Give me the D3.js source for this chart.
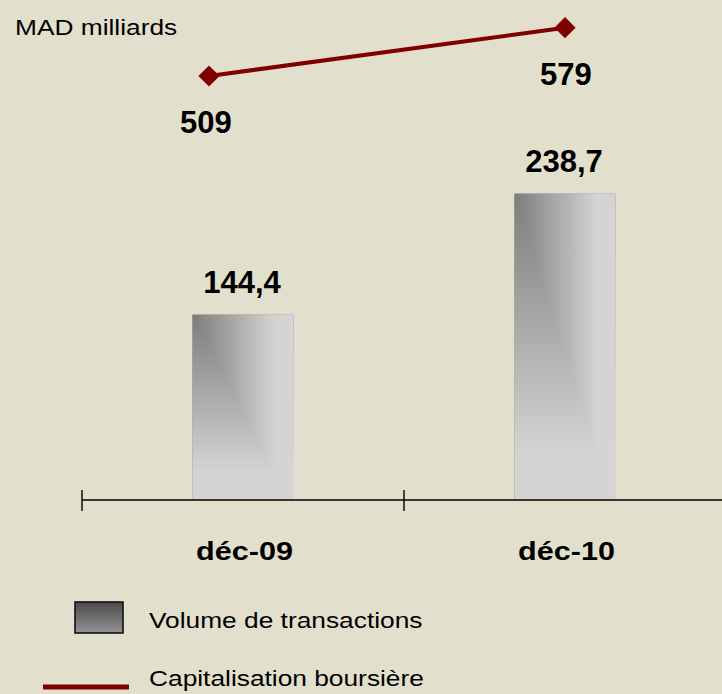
<!DOCTYPE html>
<html>
<head>
<meta charset="utf-8">
<script src="https://cdn.jsdelivr.net/npm/d3@7"></script>
<style>
  html, body { margin: 0; padding: 0; background: #e2e0cc; }
  svg { display: block; font-family: "Liberation Sans", Arial, sans-serif; }
</style>
</head>
<body>
<div id="chart"></div>
<script>
// Data
var categories = ["déc-09", "déc-10"];
var volumeValues = [144.4, 238.7];
var capitalisationValues = [509, 579];
var volumeLabels = ["144,4", "238,7"];
var capitalisationLabels = ["509", "579"];
var seriesNames = ["Volume de transactions", "Capitalisation boursière"];
var unitLabel = "MAD milliards";

var svgWidth = 722;
var svgHeight = 694;

var svg = d3.select("#chart")
  .append("svg")
  .attr("width", svgWidth)
  .attr("height", svgHeight);

svg.append("rect")
  .attr("width", svgWidth)
  .attr("height", svgHeight)
  .attr("fill", "#e2e0cc");

var defs = svg.append("defs");

// bar gradients (horizontal + vertical, combined with lighten -> corner gradient)
var gh = defs.append("linearGradient").attr("id", "gradH")
  .attr("x1", 0).attr("y1", 0).attr("x2", 1).attr("y2", 0);
gh.append("stop").attr("offset", 0).attr("stop-color", "#7d7d7d");
gh.append("stop").attr("offset", 0.82).attr("stop-color", "#d4d4d4");
gh.append("stop").attr("offset", 1).attr("stop-color", "#d4d4d4");

var gv = defs.append("linearGradient").attr("id", "gradV")
  .attr("x1", 0).attr("y1", 0).attr("x2", 0).attr("y2", 1);
gv.append("stop").attr("offset", 0).attr("stop-color", "#7d7d7d");
gv.append("stop").attr("offset", 0.85).attr("stop-color", "#d4d4d4");
gv.append("stop").attr("offset", 1).attr("stop-color", "#d4d4d4");

var gl = defs.append("linearGradient").attr("id", "gradLegend")
  .attr("x1", 0).attr("y1", 0).attr("x2", 0).attr("y2", 1);
gl.append("stop").attr("offset", 0).attr("stop-color", "#4a4a4a");
gl.append("stop").attr("offset", 1).attr("stop-color", "#939393");

// Scales
var x = d3.scaleBand()
  .domain(categories)
  .range([82, 726])
  .padding(0);

var xLine = d3.scalePoint()
  .domain(categories)
  .range([209, 565]);

var y = d3.scaleLinear()
  .domain([0, 300])
  .range([500, 115]);

var y2 = d3.scaleLinear()
  .domain([400, 600])
  .range([151.2, 13.2]);

var barWidth = 101;

// text helper: stretched text
function stretchText(g, str, px, py, size, weight, sx, anchor) {
  return g.append("text")
    .attr("transform", `translate(${px}, ${py}) scale(${sx}, 1)`)
    .attr("font-size", size)
    .attr("font-weight", weight)
    .attr("text-anchor", anchor)
    .attr("fill", "#000")
    .text(str);
}

// Bars
var barsGroup = svg.append("g");
categories.forEach(function(c, i) {
  var bx = x(c) + x.bandwidth() / 2 - barWidth / 2;
  var by = y(volumeValues[i]);
  var bh = y(0) - by;
  var bg = barsGroup.append("g").style("isolation", "isolate");
  bg.append("rect")
    .attr("x", bx).attr("y", by)
    .attr("width", barWidth).attr("height", bh)
    .attr("fill", "url(#gradH)");
  bg.append("rect")
    .attr("x", bx).attr("y", by)
    .attr("width", barWidth).attr("height", bh)
    .attr("fill", "url(#gradV)")
    .style("mix-blend-mode", "lighten");
});

// Axis
var axisGroup = svg.append("g");
axisGroup.append("line")
  .attr("x1", x.range()[0]).attr("x2", svgWidth)
  .attr("y1", y(0)).attr("y2", y(0))
  .attr("stroke", "#000").attr("stroke-width", 1.6);
axisGroup.selectAll(".tick")
  .data(categories)
  .enter()
  .append("line")
  .attr("x1", d => x(d)).attr("x2", d => x(d))
  .attr("y1", y(0) - 10).attr("y2", y(0) + 11)
  .attr("stroke", "#000").attr("stroke-width", 1.4);

categories.forEach(function(c) {
  stretchText(svg, c, x(c) + x.bandwidth() / 2 + 1.5, 560, 26.5, "bold", 1.155, "middle");
});

// Bar labels
volumeLabels.forEach(function(l, i) {
  stretchText(svg, l, x(categories[i]) + x.bandwidth() / 2 - 1, y(volumeValues[i]) - 22, 32, "bold", 0.97, "middle");
});

// Line
var line = d3.line()
  .x((d, i) => xLine(categories[i]))
  .y(d => y2(d));

svg.append("path")
  .datum(capitalisationValues)
  .attr("d", line)
  .attr("fill", "none")
  .attr("stroke", "#800000")
  .attr("stroke-width", 4);

svg.selectAll(".marker")
  .data(capitalisationValues)
  .enter()
  .append("path")
  .attr("d", d3.symbol().type(d3.symbolSquare).size(225))
  .attr("transform", (d, i) => `translate(${xLine(categories[i])}, ${y2(d)}) rotate(45)`)
  .attr("fill", "#800000");

capitalisationLabels.forEach(function(l, i) {
  stretchText(svg, l, xLine(categories[i]) - (i === 0 ? 3 : -1), y2(capitalisationValues[i]) + 57, 32, "bold", 0.97, "middle");
});

// Unit label
stretchText(svg, unitLabel, 15, 35, 22.5, "normal", 1.17, "start");

// Legend
var legend = svg.append("g");
legend.append("rect")
  .attr("x", 75).attr("y", 602)
  .attr("width", 48).attr("height", 31)
  .attr("fill", "url(#gradLegend)")
  .attr("stroke", "#111").attr("stroke-width", 1.6);
stretchText(legend, seriesNames[0], 149, 628, 22.5, "normal", 1.17, "start");

legend.append("line")
  .attr("x1", 43).attr("x2", 129)
  .attr("y1", 687).attr("y2", 687)
  .attr("stroke", "#800000").attr("stroke-width", 5);
stretchText(legend, seriesNames[1], 149, 686, 22.5, "normal", 1.17, "start");
</script>
</body>
</html>
